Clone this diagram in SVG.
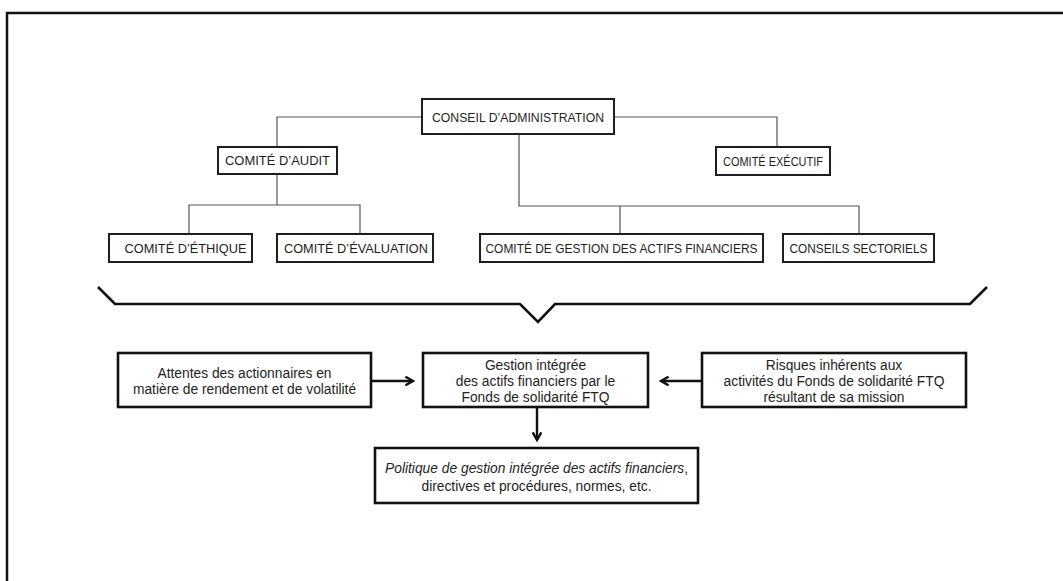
<svg xmlns="http://www.w3.org/2000/svg" width="1063" height="581" viewBox="0 0 1063 581">
<defs>
<style>
.bx{fill:#fff;stroke:#1e1e1e;stroke-width:2}
.bb{fill:#fff;stroke:#111;stroke-width:2.6}
.t{font-family:"Liberation Sans",Arial,sans-serif;font-size:13px;fill:#1e1e1e;text-anchor:middle}
.tb{font-family:"Liberation Sans",Arial,sans-serif;font-size:13.8px;fill:#1e1e1e;text-anchor:middle}
.ln{fill:none;stroke:#555;stroke-width:1.2}
.ar{fill:none;stroke:#111;stroke-width:2.4}
</style>
<marker id="ah" viewBox="0 0 10 10" refX="8" refY="5" markerWidth="4.5" markerHeight="4.5" orient="auto" markerUnits="strokeWidth">
<path d="M1,1 L8,5 L1,9" fill="none" stroke="#111" stroke-width="2.2"/>
</marker>
</defs>
<rect width="1063" height="581" fill="#fff"/>
<path d="M7,581 V13 H1063" fill="none" stroke="#111" stroke-width="2.5"/>
<g id="connectors">
<path class="ln" d="M422,117 H277 V147"/>
<path class="ln" d="M614,117 H777 V147"/>
<path class="ln" d="M277,174 V205 M189,234 V205 H360 V234"/>
<path class="ln" d="M519,134 V206 H859 V234 M620,206 V234"/>
<path d="M98,287 L115,304 H520 L538,322 L555,304 H970 L987,287" fill="none" stroke="#111" stroke-width="2.6"/>
<path class="ar" d="M371,381 H413" marker-end="url(#ah)"/>
<path class="ar" d="M702,381 H661" marker-end="url(#ah)"/>
<path class="ar" d="M537,407 V440" marker-end="url(#ah)"/>
</g>
<g id="n-ca"><rect class="bx" x="422" y="99" width="192" height="35"/><text class="t" x="518" y="121.5" textLength="172" lengthAdjust="spacingAndGlyphs">CONSEIL D’ADMINISTRATION</text></g>
<g id="n-audit"><rect class="bx" x="218" y="147" width="119" height="27"/><text class="t" x="277.5" y="165" textLength="105" lengthAdjust="spacingAndGlyphs">COMITÉ D’AUDIT</text></g>
<g id="n-exec"><rect class="bx" x="716" y="147" width="114" height="28"/><text class="t" x="773" y="165.5" textLength="100" lengthAdjust="spacingAndGlyphs">COMITÉ EXÉCUTIF</text></g>
<g id="n-ethique"><rect class="bx" x="109" y="234" width="143" height="28"/><text class="t" x="185.5" y="252.5" textLength="122" lengthAdjust="spacingAndGlyphs">COMITÉ D’ÉTHIQUE</text></g>
<g id="n-eval"><rect class="bx" x="277" y="234" width="156" height="28"/><text class="t" x="356" y="252.5" textLength="144" lengthAdjust="spacingAndGlyphs">COMITÉ D’ÉVALUATION</text></g>
<g id="n-gestion"><rect class="bx" x="480" y="234" width="283" height="28"/><text class="t" x="621.5" y="252.5" textLength="272" lengthAdjust="spacingAndGlyphs">COMITÉ DE GESTION DES ACTIFS FINANCIERS</text></g>
<g id="n-sect"><rect class="bx" x="783" y="234" width="151" height="28"/><text class="t" x="858.5" y="252.5" textLength="138" lengthAdjust="spacingAndGlyphs">CONSEILS SECTORIELS</text></g>
<g id="n-attentes"><rect class="bb" x="118" y="353" width="253" height="54"/><text class="tb" x="244.5" y="378">Attentes des actionnaires en</text><text class="tb" x="244.5" y="394">matière de rendement et de volatilité</text></g>
<g id="n-gi"><rect class="bb" x="423" y="353" width="225" height="54"/><text class="tb" x="535.5" y="370">Gestion intégrée</text><text class="tb" x="535.5" y="386">des actifs financiers par le</text><text class="tb" x="535.5" y="402">Fonds de solidarité FTQ</text></g>
<g id="n-risques"><rect class="bb" x="702" y="353" width="264" height="54"/><text class="tb" x="834" y="370">Risques inhérents aux</text><text class="tb" x="834" y="386">activités du Fonds de solidarité FTQ</text><text class="tb" x="834" y="402">résultant de sa mission</text></g>
<g id="n-politique"><rect class="bb" x="375" y="448" width="323" height="55" stroke-width="3"/><text class="tb" x="536.5" y="473"><tspan font-style="italic">Politique de gestion intégrée des actifs financiers</tspan>,</text><text class="tb" x="536.5" y="491">directives et procédures, normes, etc.</text></g>
</svg>
